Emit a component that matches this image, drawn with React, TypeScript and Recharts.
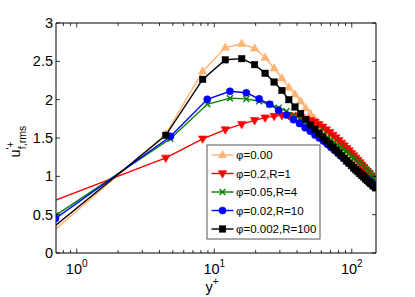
import React from 'react';
import { LineChart, Line, XAxis, YAxis } from 'recharts';

// wall-normal positions (two grids)
const yPlusGridA = [0.64, 4.44, 8.24, 12.04, 15.84, 19.64, 23.44, 27.24, 31.04, 34.84, 38.64, 42.44, 46.24, 50.04, 53.84, 57.64, 61.44, 65.24, 69.04, 72.84, 76.64, 80.44, 84.24, 88.04, 91.84, 95.64, 99.44, 103.24, 107.04, 110.84, 114.64, 118.44, 122.24, 126.04, 129.84, 133.64, 137.44, 141.24, 145.04, 148.84];
const yPlusGridB = [0.7, 4.8, 8.9, 13.0, 17.1, 21.2, 25.3, 29.4, 33.5, 37.6, 41.7, 45.8, 49.9, 54.0, 58.1, 62.2, 66.3, 70.4, 74.5, 78.6, 82.7, 86.8, 90.9, 95.0, 99.1, 103.2, 107.3, 111.4, 115.5, 119.6, 123.7, 127.8, 131.9, 136.0, 140.1, 144.2, 148.3];

const uPhi000 = [0.25, 1.55, 2.37, 2.68, 2.73, 2.67, 2.55, 2.41, 2.28, 2.16, 2.07, 1.98, 1.89, 1.82, 1.75, 1.69, 1.64, 1.59, 1.545, 1.5, 1.46, 1.42, 1.385, 1.35, 1.315, 1.285, 1.255, 1.225, 1.195, 1.165, 1.14, 1.11, 1.085, 1.06, 1.04, 1.02, 1.0, 0.985, 0.97, 0.955];
const uPhi02R1 = [0.66, 1.24, 1.49, 1.61, 1.68, 1.73, 1.765, 1.785, 1.795, 1.795, 1.785, 1.77, 1.75, 1.73, 1.71, 1.68, 1.645, 1.61, 1.575, 1.54, 1.505, 1.47, 1.435, 1.4, 1.365, 1.335, 1.3, 1.27, 1.24, 1.21, 1.18, 1.15, 1.12, 1.09, 1.065, 1.04, 1.01, 0.985, 0.96, 0.935];
const uPhi005R4 = [0.49, 1.49, 1.94, 2.02, 2.01, 1.98, 1.94, 1.895, 1.85, 1.8, 1.755, 1.71, 1.67, 1.63, 1.59, 1.55, 1.51, 1.475, 1.44, 1.41, 1.38, 1.35, 1.32, 1.29, 1.26, 1.235, 1.21, 1.18, 1.155, 1.13, 1.105, 1.08, 1.055, 1.03, 1.005, 0.98, 0.955];
const uPhi002R10 = [0.45, 1.52, 2.005, 2.11, 2.09, 2.01, 1.94, 1.86, 1.8, 1.74, 1.69, 1.635, 1.59, 1.54, 1.5, 1.46, 1.42, 1.38, 1.345, 1.31, 1.27, 1.24, 1.205, 1.175, 1.145, 1.115, 1.09, 1.06, 1.035, 1.01, 0.99, 0.97, 0.95, 0.93, 0.91, 0.89, 0.87];
const uPhi0002R100 = [0.3, 1.535, 2.265, 2.52, 2.535, 2.457, 2.344, 2.23, 2.12, 2.0, 1.905, 1.82, 1.74, 1.67, 1.615, 1.56, 1.51, 1.465, 1.42, 1.38, 1.34, 1.305, 1.27, 1.235, 1.2, 1.17, 1.14, 1.11, 1.085, 1.06, 1.035, 1.01, 0.99, 0.965, 0.945, 0.925, 0.905, 0.885, 0.87, 0.85];

const seriesNames = ['φ=0.00', 'φ=0.2,R=1', 'φ=0.05,R=4', 'φ=0.02,R=10', 'φ=0.002,R=100'];
const xMajorTicks = [1, 10, 100];
const xMajorLabels = ['0', '1', '2'];
const xMinorTicks = [0.8, 0.9, 2, 3, 4, 5, 6, 7, 8, 9, 20, 30, 40, 50, 60, 70, 80, 90];
const yTicks = [0, 0.5, 1, 1.5, 2, 2.5, 3];
const yTickLabels = ['0', '0.5', '1', '1.5', '2', '2.5', '3'];

const FONT = '"Liberation Sans", Arial, Helvetica, sans-serif';
const COLORS = ['#FDB474', '#FF0000', '#008000', '#0000FF', '#000000'];
const SHAPES = ['triUp', 'triDown', 'cross', 'circle', 'square'];

const zip = (xs: number[], us: number[]) => us.map((u, i) => ({ x: xs[i], u }));
const seriesData = [
  zip(yPlusGridA, uPhi000),
  zip(yPlusGridA, uPhi02R1),
  zip(yPlusGridB, uPhi005R4),
  zip(yPlusGridB, uPhi002R10),
  zip(yPlusGridA, uPhi0002R100),
];

const allXTicks = [...xMajorTicks, ...xMinorTicks].sort((a, b) => a - b);

function Marker({ shape, cx, cy, color }: { shape: string; cx: number; cy: number; color: string }) {
  if (cx == null || cy == null || isNaN(cx) || isNaN(cy)) return null;
  switch (shape) {
    case 'triUp':
      return <polygon points={`${cx},${cy - 4.6} ${cx - 4.2},${cy + 2.8} ${cx + 4.2},${cy + 2.8}`} fill={color} stroke={color} strokeWidth={0.6} />;
    case 'triDown':
      return <polygon points={`${cx},${cy + 4.6} ${cx - 4.2},${cy - 2.8} ${cx + 4.2},${cy - 2.8}`} fill={color} stroke={color} strokeWidth={0.6} />;
    case 'cross':
      return (
        <g stroke={color} strokeWidth={1.4}>
          <line x1={cx - 3} y1={cy - 3} x2={cx + 3} y2={cy + 3} />
          <line x1={cx - 3} y1={cy + 3} x2={cx + 3} y2={cy - 3} />
        </g>
      );
    case 'circle':
      return <circle cx={cx} cy={cy} r={3.6} fill={color} stroke={color} strokeWidth={0.5} />;
    case 'square':
      return <rect x={cx - 3.3} y={cy - 3.3} width={6.6} height={6.6} fill={color} stroke={color} strokeWidth={0.4} />;
    default:
      return null;
  }
}

const BottomTick = (props: any) => {
  const { x, y, payload } = props;
  const v = payload.value;
  const mi = xMajorTicks.indexOf(v);
  const major = mi >= 0;
  return (
    <g>
      <line x1={x} y1={y} x2={x} y2={y - (major ? 4.5 : 3)} stroke="#000" strokeWidth={0.8} />
      {major && (
        <text x={x} y={y + 21} textAnchor="middle" fontSize={14.5} fontFamily={FONT} fill="#000">
          10<tspan dy={-7.5} fontSize={10}>{xMajorLabels[mi]}</tspan>
        </text>
      )}
    </g>
  );
};

const TopTick = (props: any) => {
  const { x, y, payload } = props;
  const major = xMajorTicks.indexOf(payload.value) >= 0;
  return <line x1={x} y1={y} x2={x} y2={y + (major ? 4.5 : 3)} stroke="#000" strokeWidth={0.8} />;
};

const LeftTick = (props: any) => {
  const { x, y, payload } = props;
  const i = yTicks.indexOf(payload.value);
  return (
    <g>
      <line x1={x} y1={y} x2={x + 4} y2={y} stroke="#000" strokeWidth={0.8} />
      <text x={x - 3} y={y + 5} textAnchor="end" fontSize={14.5} fontFamily={FONT} fill="#000">
        {yTickLabels[i]}
      </text>
    </g>
  );
};

const RightTick = (props: any) => {
  const { x, y } = props;
  return <line x1={x} y1={y} x2={x - 4} y2={y} stroke="#000" strokeWidth={0.8} />;
};

function LegendBox() {
  const left = 207, top = 145, w = 113, h = 94;
  const rowY = [155, 173.5, 192, 210.5, 229];
  return (
    <svg width={415} height={297} style={{ position: 'absolute', left: 0, top: 0, pointerEvents: 'none' }}>
      <rect x={left} y={top} width={w} height={h} fill="#fff" stroke="#555" strokeWidth={1} />
      {seriesNames.map((name, i) => (
        <g key={name}>
          <line x1={211.5} y1={rowY[i]} x2={233.5} y2={rowY[i]} stroke={COLORS[i]} strokeWidth={1.4} />
          <Marker shape={SHAPES[i]} cx={222.5} cy={rowY[i]} color={COLORS[i]} />
          <text x={236} y={rowY[i] + 4} fontSize={11.5} fontFamily={FONT} fill="#000">{name}</text>
        </g>
      ))}
    </svg>
  );
}

export default function App() {
  return (
    <div style={{ position: 'absolute', left: 0, top: 0, width: 415, height: 297, background: '#fff' }}>
      <LineChart width={415} height={297} margin={{ top: 13, right: 29, bottom: 14, left: 26 }}>
        <XAxis
          dataKey="x"
          type="number"
          scale="log"
          domain={[0.707, 150]}
          allowDataOverflow
          ticks={allXTicks}
          interval={0}
          tickLine={false}
          tickSize={0}
          tickMargin={0}
          height={30}
          axisLine={{ stroke: '#000', strokeWidth: 1 }}
          tick={<BottomTick />}
        />
        <XAxis
          xAxisId="top"
          orientation="top"
          dataKey="x"
          type="number"
          scale="log"
          domain={[0.707, 150]}
          allowDataOverflow
          ticks={allXTicks}
          interval={0}
          tickLine={false}
          tickSize={0}
          tickMargin={0}
          height={10}
          axisLine={{ stroke: '#000', strokeWidth: 1 }}
          tick={<TopTick />}
        />
        <YAxis
          type="number"
          domain={[0, 3]}
          allowDataOverflow
          ticks={yTicks}
          interval={0}
          tickLine={false}
          tickSize={0}
          tickMargin={0}
          width={30}
          axisLine={{ stroke: '#000', strokeWidth: 1 }}
          tick={<LeftTick />}
        />
        <YAxis
          yAxisId="right"
          orientation="right"
          type="number"
          domain={[0, 3]}
          allowDataOverflow
          ticks={yTicks}
          interval={0}
          tickLine={false}
          tickSize={0}
          tickMargin={0}
          width={10}
          axisLine={{ stroke: '#000', strokeWidth: 1 }}
          tick={<RightTick />}
        />
        {seriesData.map((d, i) => (
          <Line
            key={seriesNames[i]}
            data={d}
            dataKey="u"
            type="linear"
            stroke={COLORS[i]}
            strokeWidth={1.4}
            isAnimationActive={false}
            dot={(p: any) => <Marker key={`${i}-${p.index}`} shape={SHAPES[i]} cx={p.cx} cy={p.cy} color={COLORS[i]} />}
            activeDot={false}
          />
        ))}
      </LineChart>
      <svg width={415} height={297} style={{ position: 'absolute', left: 0, top: 0, pointerEvents: 'none' }}>
        <text transform="rotate(-90)" x={-157.5} y={20} fontSize={14.5} fontFamily={FONT} fill="#000">
          u<tspan dy={-6} fontSize={10}>'+</tspan>
          <tspan dx={-7.5} dy={12} fontSize={10.5}>f,rms</tspan>
        </text>
        <text x={212} y={292} textAnchor="middle" fontSize={14.5} fontFamily={FONT} fill="#000">
          y<tspan dy={-7} fontSize={10}>+</tspan>
        </text>
      </svg>
      <LegendBox />
    </div>
  );
}
